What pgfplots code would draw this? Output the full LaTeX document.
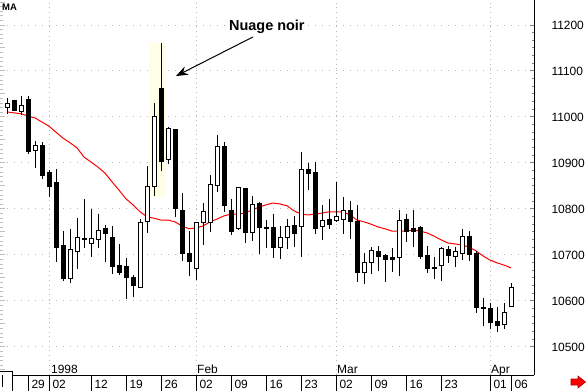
\documentclass[border=0pt]{standalone}
\usepackage{fontspec}
\setmainfont{Liberation Sans}
\usepackage{pgfplots}
\pgfplotsset{compat=1.18}
\usepackage{pgfplotstable}
\usetikzlibrary{arrows.meta}
\definecolor{hl}{RGB}{255,255,230}
\definecolor{gridc}{RGB}{185,185,185}
\definecolor{mared}{RGB}{255,0,0}

\pgfplotstableread{
i o h l c ma
-3 11020 11041 11007 11030 11011
-2 11035 11037 11013 11015 11009
-1 11011 11046 11004 11026 11007
0 11039 11046 10920 10926 11002
1 10928 10948 10889 10937 10998
2 10939 10946 10865 10872 10989
3 10880 10885 10826 10850 10980
4 10857 10887 10685 10717 10967
5 10720 10752 10643 10648 10954
6 10650 10757 10639 10711 10944
7 10707 10780 10670 10739 10933
8 10735 10822 10715 10733 10913
9 10726 10800 10696 10737 10902
10 10733 10789 10715 10754 10891
11 10757 10765 10685 10746 10878
12 10739 10763 10659 10676 10859
13 10678 10724 10657 10663 10841
14 10674 10693 10604 10650 10822
15 10652 10657 10609 10633 10809
16 10630 10778 10628 10770 10794
17 10772 10894 10748 10848 10783
18 10848 11030 10828 11002 10780
19 11063 11161 10883 10904 10776
20 10907 10978 10898 10976 10776
21 10972 10974 10783 10800 10772
22 10796 10835 10687 10704 10763
23 10704 10752 10654 10685 10757
24 10670 10772 10646 10770 10759
25 10770 10813 10722 10794 10763
26 10770 10874 10750 10854 10772
27 10852 10961 10837 10935 10778
28 10935 10946 10794 10807 10785
29 10796 10822 10744 10752 10789
30 10757 10848 10755 10846 10789
31 10844 10846 10726 10748 10791
32 10748 10828 10730 10809 10798
33 10813 10815 10702 10759 10804
34 10759 10776 10715 10758 10809
35 10759 10789 10694 10717 10813
36 10717 10763 10691 10739 10811
37 10739 10778 10713 10763 10807
38 10765 10785 10717 10746 10796
39 10761 10924 10696 10885 10789
40 10885 10900 10841 10878 10787
41 10880 10902 10746 10757 10789
42 10761 10809 10733 10776 10791
43 10778 10822 10757 10767 10794
44 10776 10859 10772 10783 10794
45 10778 10826 10746 10796 10794
46 10796 10817 10735 10772 10787
47 10772 10809 10641 10661 10776
48 10661 10704 10637 10683 10772
49 10683 10717 10659 10709 10767
50 10707 10720 10665 10696 10761
51 10698 10702 10641 10691 10757
52 10694 10715 10663 10691 10752
53 10694 10798 10654 10774 10752
54 10778 10789 10728 10752 10752
55 10757 10798 10717 10752 10754
56 10759 10763 10691 10696 10752
57 10698 10720 10661 10670 10748
58 10673 10696 10648 10671 10741
59 10678 10717 10643 10715 10733
60 10713 10720 10683 10698 10726
61 10696 10717 10674 10707 10724
62 10704 10757 10689 10741 10722
63 10741 10752 10687 10702 10717
64 10704 10709 10574 10585 10709
65 10587 10607 10546 10583 10698
66 10583 10596 10539 10554 10689
67 10556 10587 10533 10546 10683
68 10548 10596 10539 10576 10678
69 10589 10639 10587 10630 10672
}\candles

\begin{document}
\begin{tikzpicture}
\useasboundingbox (0bp,-16bp) rectangle (586bp,375bp);
% left light-gray ticks
\begin{axis}[
  at={(0bp,0bp)}, anchor=south west,
  scale only axis, width=534bp, height=375bp,
  xmin=-4, xmax=72.286, ymin=10439.1, ymax=11254.35,
  hide x axis, axis y line*=left, y axis line style={draw=none},
  ytick={10450,10500,...,11250}, minor y tick num=4, yticklabels={},
  tick align=inside, major tick length=5bp, minor tick length=3bp,
  ytick style={draw=gray!50, line width=1bp},
]
\end{axis}
\begin{axis}[
  at={(0bp,0bp)}, anchor=south west,
  scale only axis, width=534bp, height=375bp,
  xmin=-4, xmax=72.286, ymin=10439.1, ymax=11254.35,
  axis x line*=bottom, axis y line*=right,
  axis line style={black, line width=1bp},
  xtick=\empty,
  ytick={10500,10600,...,11200}, minor y tick num=5,
  scaled y ticks=false,
  ymajorgrids,
  major grid style={draw=gridc, line width=1bp, dash pattern=on 1bp off 6bp},
  tick align=inside, major tick length=4bp, minor tick length=2bp,
  ytick style={draw=gray, line width=1bp},
  yticklabel style={anchor=west, xshift=14bp, /pgf/number format/fixed, /pgf/number format/1000 sep={}},
  ticklabel style={font=\fontsize{12}{14}\selectfont},
  /pgf/number format/assume math mode=true,
  extra x ticks={0,3,9,14,19,24,29,34,39,44,49,54,59,66,69},
  extra x tick labels={29,02,12,19,26,02,09,16,23,02,09,16,23,01,06},
  extra x tick style={major tick length=16bp, tick align=outside,
    tick style={draw=black, line width=1bp},
    xticklabel style={anchor=west, xshift=0bp, yshift=6.5bp}},
]
\fill[hl] (axis cs:17.29,10826) rectangle (axis cs:19.71,11161);
\pgfplotsinvokeforeach{3,24,44,66}{
  \draw[gridc, line width=1bp, dash pattern=on 1bp off 3.7bp] (axis cs:#1,10439.1) -- (axis cs:#1,11254.35);
}
% moving average
\addplot[mared, line width=1bp, mark=none] table[x=i, y=ma] {\candles};
% wicks
\addplot[draw=none, mark=none,
  error bars/y dir=both, error bars/y explicit, error bars/error mark=none,
  error bars/error bar style={draw=black, line width=1bp, solid}]
  table[x=i, y expr={(\thisrow{h}+\thisrow{l})/2}, y error expr={(\thisrow{h}-\thisrow{l})/2}] {\candles};
% bodies
\addplot[draw=none, mark=none,
  error bars/y dir=both, error bars/y explicit, error bars/error mark=none,
  error bars/error bar style={draw=black, line width=5bp, solid}]
  table[x=i, y expr={(\thisrow{o}+\thisrow{c})/2}, y error expr={abs(\thisrow{c}-\thisrow{o})/2+1.087}] {\candles};
% hollow (rising) bodies
\addplot[draw=none, mark=none,
  restrict expr to domain={\thisrow{c}-\thisrow{o}}{0.5:100000},
  error bars/y dir=both, error bars/y explicit, error bars/error mark=none,
  error bars/error bar style={draw=white, line width=3bp, solid}]
  table[x=i, y expr={(\thisrow{o}+\thisrow{c})/2}, y error expr={(\thisrow{c}-\thisrow{o})/2-1.087}] {\candles};
% annotation
\node[anchor=base west, inner sep=0, font=\bfseries\fontsize{14.5}{16}\selectfont] at (axis cs:28.71,11189) {Nuage noir};
\draw[line width=1bp, -{Stealth[length=12bp,width=9bp]}] (axis cs:32.14,11174) -- (axis cs:21.14,11089);
% month labels
\node[anchor=base west, inner sep=0, xshift=2bp, yshift=2bp, font=\fontsize{12}{14}\selectfont] at (axis cs:3,10439.1) {1998};
\node[anchor=base west, inner sep=0, xshift=1bp, yshift=2bp, font=\fontsize{12}{14}\selectfont] at (axis cs:24,10439.1) {Feb};
\node[anchor=base west, inner sep=0, xshift=1bp, yshift=2bp, font=\fontsize{12}{14}\selectfont] at (axis cs:44,10439.1) {Mar};
\node[anchor=base west, inner sep=0, xshift=1bp, yshift=2bp, font=\fontsize{12}{14}\selectfont] at (axis cs:66,10439.1) {Apr};
\end{axis}
% MA label
\node[anchor=base west, inner sep=0, font=\bfseries\fontsize{9.5}{11}\selectfont] at (2bp,364.5bp) {MA};
% bottom-left scroll box
\fill[white] (0bp,-16bp) rectangle (12bp,3bp);
\draw[black, line width=1bp] (0bp,3bp) -- (12bp,3bp) -- (12bp,-16bp);
\draw[black, line width=1bp] (2.5bp,0bp) -- (2.5bp,-12bp);
% red arrow bottom right
\filldraw[fill=red, draw=red!65!black, line width=0.6bp] (571bp,-4bp) -- (578bp,-4bp) -- (578bp,-1bp) -- (585.5bp,-7bp) -- (578bp,-13bp) -- (578bp,-10bp) -- (571bp,-10bp) -- cycle;
\end{tikzpicture}
\end{document}
